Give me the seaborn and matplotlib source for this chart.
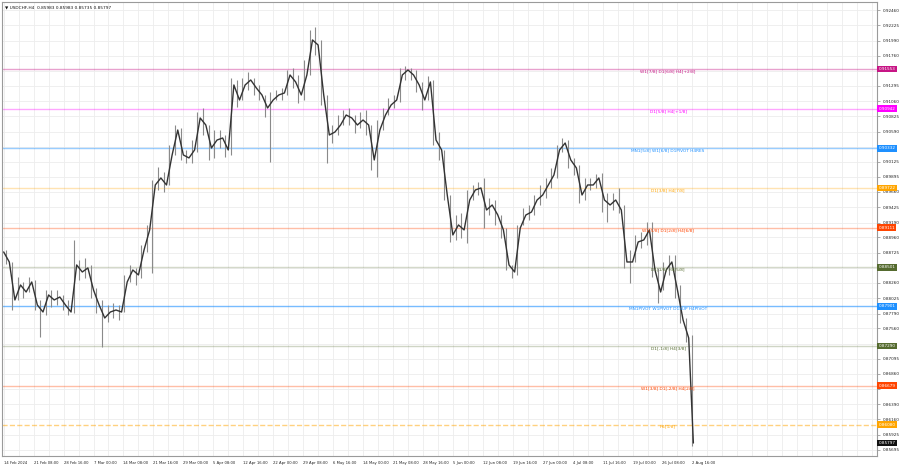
import numpy as np
import pandas as pd
import matplotlib
matplotlib.use("Agg")
import matplotlib.pyplot as plt
import seaborn as sns

# ---------------- data ----------------
first_open = 0.88737
closes = [0.88583, 0.87998, 0.88229, 0.88121, 0.88275, 0.87921, 0.87813, 0.88075, 0.87998, 0.88044,
          0.87921, 0.87813, 0.88537, 0.88429, 0.88491, 0.88152, 0.87921, 0.87721, 0.87813, 0.87844,
          0.87813, 0.88275, 0.88460, 0.88383, 0.88768, 0.89076, 0.89768, 0.89876, 0.89768, 0.90230,
          0.90614, 0.90230, 0.90184, 0.90307, 0.90799, 0.90691, 0.90337, 0.90460, 0.90491, 0.90307,
          0.91307, 0.91076, 0.91307, 0.91384, 0.91261, 0.91153, 0.90953, 0.91076, 0.91153, 0.91184,
          0.91461, 0.91353, 0.91153, 0.91461, 0.92000, 0.91922, 0.91153, 0.90537, 0.90583, 0.90691,
          0.90845, 0.90799, 0.90691, 0.90768, 0.90691, 0.90153, 0.90614, 0.90845, 0.90999, 0.91076,
          0.91461, 0.91538, 0.91461, 0.91307, 0.91076, 0.91353, 0.90460, 0.90307, 0.89614, 0.88999,
          0.89153, 0.89076, 0.89537, 0.89691, 0.89722, 0.89383, 0.89460, 0.89306, 0.89076, 0.88537,
          0.88429, 0.89106, 0.89306, 0.89352, 0.89537, 0.89614, 0.89768, 0.89922, 0.90307, 0.90414,
          0.90153, 0.90030, 0.89614, 0.89768, 0.89768, 0.89876, 0.89537, 0.89460, 0.89537, 0.89383,
          0.88583, 0.88583, 0.88891, 0.88922, 0.89076, 0.88460, 0.88121, 0.88460, 0.88583, 0.88152,
          0.87690, 0.87413, 0.85797]
highs = [0.88768, 0.88583, 0.88352, 0.88275, 0.88352, 0.88306, 0.87998, 0.88152, 0.88152, 0.88152,
         0.88075, 0.87998, 0.88922, 0.88614, 0.88644, 0.88537, 0.88183, 0.87998, 0.87921, 0.87952,
         0.87921, 0.88383, 0.88537, 0.88491, 0.88845, 0.89153, 0.89845, 0.90045, 0.89968, 0.90383,
         0.90691, 0.90645, 0.90307, 0.90460, 0.90891, 0.90953, 0.90691, 0.90614, 0.90614, 0.90537,
         0.91415, 0.91384, 0.91415, 0.91507, 0.91415, 0.91307, 0.91153, 0.91199, 0.91230, 0.91261,
         0.91538, 0.91568, 0.91461, 0.91692, 0.92153, 0.92200, 0.92000, 0.91153, 0.90691, 0.90845,
         0.90922, 0.90953, 0.90845, 0.90891, 0.90922, 0.90691, 0.90768, 0.90953, 0.91107, 0.91153,
         0.91568, 0.91599, 0.91568, 0.91538, 0.91353, 0.91445, 0.91384, 0.90583, 0.90307, 0.89614,
         0.89306, 0.89337, 0.89691, 0.89768, 0.89814, 0.89876, 0.89568, 0.89537, 0.89306, 0.89106,
         0.88537, 0.89153, 0.89414, 0.89460, 0.89614, 0.89768, 0.89876, 0.90030, 0.90383, 0.90491,
         0.90460, 0.90184, 0.90076, 0.89876, 0.89876, 0.89937, 0.89953, 0.89645, 0.89645, 0.89722,
         0.89460, 0.88768, 0.88999, 0.89045, 0.89199, 0.89199, 0.88491, 0.88583, 0.88691, 0.88691,
         0.88229, 0.87721, 0.87459]
lows = [0.88552, 0.87844, 0.87998, 0.88029, 0.88121, 0.87844, 0.87429, 0.87767, 0.87890, 0.87921,
        0.87844, 0.87767, 0.87798, 0.88306, 0.88337, 0.88029, 0.87798, 0.87275, 0.87659, 0.87721,
        0.87690, 0.87813, 0.88275, 0.88229, 0.88337, 0.88737, 0.88414, 0.89691, 0.89660, 0.89768,
        0.90230, 0.90153, 0.90107, 0.90107, 0.90276, 0.90537, 0.90153, 0.90184, 0.90337, 0.90199,
        0.90230, 0.90968, 0.91076, 0.91230, 0.91153, 0.91076, 0.90814, 0.90122, 0.91076, 0.91076,
        0.91153, 0.91261, 0.91030, 0.91076, 0.91461, 0.91769, 0.90999, 0.90107, 0.90414, 0.90537,
        0.90691, 0.90691, 0.90568, 0.90645, 0.90537, 0.89999, 0.89891, 0.90614, 0.90845, 0.90953,
        0.91045, 0.91384, 0.91384, 0.91199, 0.90922, 0.91076, 0.90383, 0.90153, 0.89537, 0.88891,
        0.88922, 0.88953, 0.88876, 0.89537, 0.89614, 0.89106, 0.89306, 0.89153, 0.88953, 0.88460,
        0.88337, 0.88383, 0.89153, 0.89230, 0.89306, 0.89460, 0.89568, 0.89722, 0.89876, 0.90276,
        0.90030, 0.89922, 0.89491, 0.89537, 0.89691, 0.89722, 0.89352, 0.89199, 0.89383, 0.89337,
        0.88491, 0.88260, 0.88583, 0.88799, 0.88845, 0.88352, 0.87952, 0.88152, 0.88383, 0.88029,
        0.87644, 0.87352, 0.85751]

x_tick_labels = ["14 Feb 2024", "21 Feb 08:00", "28 Feb 16:00", "7 Mar 00:00", "14 Mar 08:00",
                 "21 Mar 16:00", "29 Mar 00:00", "5 Apr 08:00", "12 Apr 16:00", "22 Apr 00:00",
                 "29 Apr 08:00", "6 May 16:00", "14 May 00:00", "21 May 08:00", "28 May 16:00",
                 "5 Jun 00:00", "12 Jun 08:00", "19 Jun 16:00", "27 Jun 00:00", "4 Jul 08:00",
                 "11 Jul 16:00", "19 Jul 00:00", "26 Jul 08:00", "2 Aug 16:00"]
y_tick_values = [0.92460, 0.92225, 0.91990, 0.91760, 0.91525, 0.91295, 0.91060, 0.90825, 0.90590,
                 0.90355, 0.90125, 0.89895, 0.89660, 0.89425, 0.89190, 0.88960, 0.88725, 0.88490,
                 0.88260, 0.88025, 0.87790, 0.87560, 0.87325, 0.87095, 0.86860, 0.86625, 0.86390,
                 0.86160, 0.85925, 0.85695]

level_prices = [0.91553, 0.90942, 0.90332, 0.89722, 0.89111, 0.88501, 0.87901, 0.87290, 0.86679, 0.86080]
level_labels = ["W1[7/8] D1[6/8] H4[+2/8]", "D1[5/8] H4[+1/8]", "MN1[5/8] W1[6/8] D1PIVOT H4RES",
                "D1[3/8] H4[7/8]", "W1[5/8] D1[2/8] H4[6/8]", "D1[1/8] H4[5/8]",
                "MN1PIVOT W1PIVOT D1SUP H4PIVOT", "D1[-1/8] H4[3/8]", "W1[3/8] D1[-2/8] H4[2/8]", "H4[1/8]"]
level_colors = ["#C71585", "#FF00FF", "#1E90FF", "#FFA500", "#FF4500",
                "#556B2F", "#1E90FF", "#556B2F", "#FF4500", "#FFA500"]
level_alpha = [0.4, 0.35, 0.45, 0.3, 0.35, 0.25, 0.6, 0.28, 0.35, 0.5]
level_styles = ["-", "-", "-", "-", "-", "-", "-", "-", "-", "--"]
last_price = 0.85797

# ---------------- layout ----------------
sns.set_theme(style="white")
plt.rcParams['font.family'] = ['DejaVu Sans']

fig = plt.figure(figsize=(9, 4.68), dpi=100)
ax = fig.add_axes([0.002, 1 - 456 / 468, (877 - 2) / 900, (456 - 2) / 468])

bars_per_day = 6
n = len(closes)
day_idx = np.arange(n)
x_close = day_idx * bars_per_day + bars_per_day
x_close[-1] = (n - 1) * bars_per_day + 5
x_mid = day_idx * bars_per_day + 3

# grid
for xv in np.arange(0, 940, 16):
    ax.axvline(xv, color="#ededed", lw=0.6, zorder=0)
for yv in y_tick_values:
    ax.axhline(yv, color="#ededed", lw=0.6, zorder=0)

# level lines
for p, c, a, ls in zip(level_prices, level_colors, level_alpha, level_styles):
    ax.axhline(p, color=c, alpha=a, lw=1.0, ls=ls, zorder=1)

# price: wicks + close path
ax.vlines(x_mid, lows, highs, color="#8a8a8a", lw=0.8, zorder=3)
path = pd.DataFrame({"bar": np.concatenate([[0], x_close]),
                     "price": np.concatenate([[first_open], closes])})
sns.lineplot(data=path, x="bar", y="price", ax=ax, color="#333333", lw=1.0, zorder=4)

# level text labels
for p, lab, c in zip(level_prices, level_labels, level_colors):
    ax.annotate(lab, xy=(710, p), xytext=(0, -1.6), textcoords="offset points",
                ha="center", va="center", fontsize=3.1, color=c, zorder=5)

ax.set_xlim(-2, 933)
ax.set_ylim(0.85597, 0.92584)

# axes ticks
ax.set_xticks(np.arange(len(x_tick_labels)) * 32)
ax.set_xticklabels(x_tick_labels, fontsize=2.7, ha="left", color="#222222")
ax.tick_params(axis="x", length=2, pad=1.5, width=0.5, color="#888888")
ax.yaxis.tick_right()
box_prices = level_prices + [last_price]
shown = [v if min(abs(v - b) for b in box_prices) > 0.0006 else None for v in y_tick_values]
ax.set_yticks(y_tick_values)
ax.set_yticklabels([f"{v:.5f}" if v is not None else "" for v in shown], fontsize=3.0, color="#222222")
ax.tick_params(axis="y", length=2, pad=2, width=0.5, color="#888888")
ax.set_xlabel("")
ax.set_ylabel("")
for s in ax.spines.values():
    s.set_color("#9a9a9a")
    s.set_linewidth(0.8)

# price boxes on right axis
for p, c in zip(level_prices, level_colors):
    ax.annotate(f"{p:.5f}", xy=(1.0, p), xycoords=("axes fraction", "data"),
                xytext=(1.3, 0), textcoords="offset points", ha="left", va="center",
                fontsize=3.0, color="white", zorder=6, annotation_clip=False,
                bbox=dict(boxstyle="square,pad=0.3", fc=c, ec="none"))
ax.annotate(f"{last_price:.5f}", xy=(1.0, last_price), xycoords=("axes fraction", "data"),
            xytext=(1.3, 0), textcoords="offset points", ha="left", va="center",
            fontsize=3.0, color="white", zorder=6, annotation_clip=False,
            bbox=dict(boxstyle="square,pad=0.3", fc="#111111", ec="none"))

# header
ax.text(0.004, 0.993, "\u25BC USDCHF,H4  0.85983 0.85983 0.85735 0.85797", transform=ax.transAxes,
        ha="left", va="top", fontsize=3.1, color="#111111")

fig.savefig("out.png", dpi=100, facecolor="white")
